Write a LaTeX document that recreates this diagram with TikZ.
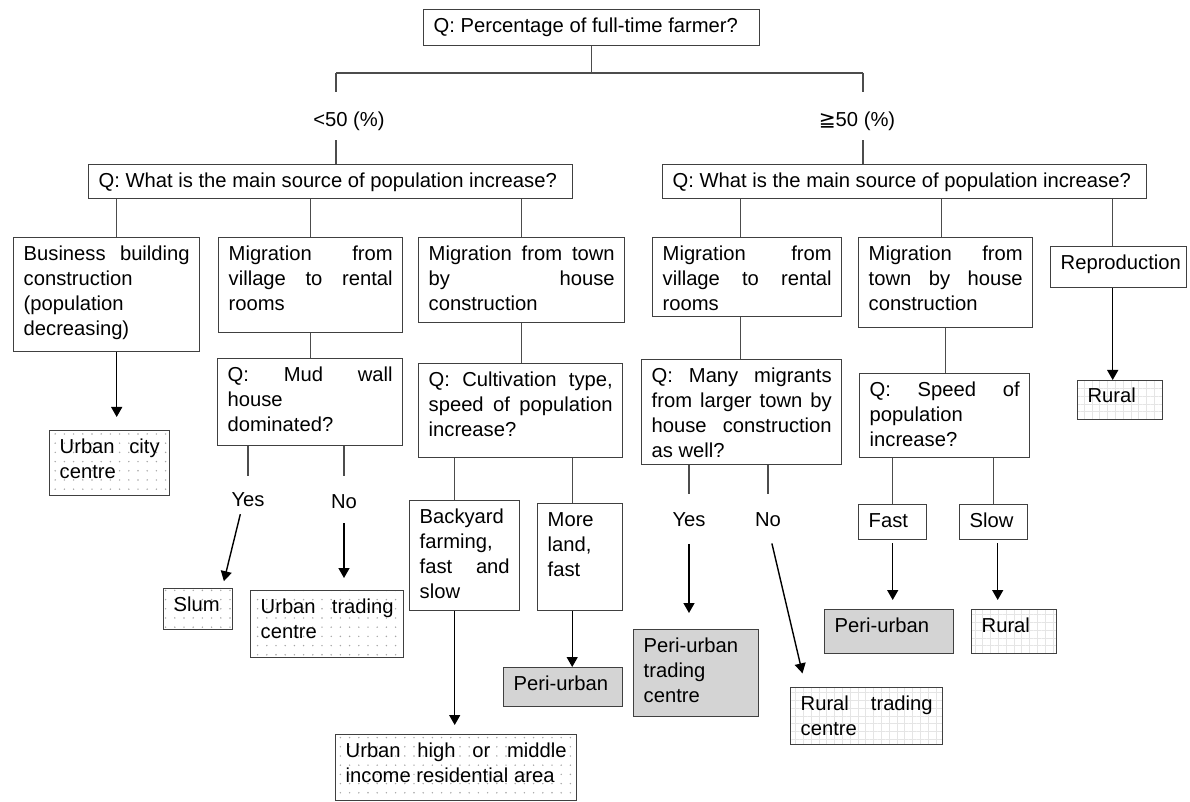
\documentclass[tikz,border=0pt]{standalone}
\usepackage{fontspec}
\setmainfont{Liberation Sans}
\newfontfamily\symfont{DejaVu Sans}
\usetikzlibrary{arrows.meta,patterns.meta}
\tolerance=10000
\hbadness=10000
\hyphenpenalty=10000

\begin{document}
\begin{tikzpicture}[x=0.5pt,y=-0.5pt,
            font=\fontsize{10.1pt}{12.5pt}\selectfont,
            box/.style={rectangle,draw=black!75,line width=0.7pt,anchor=north west,
                        align=justify,inner xsep=5pt,inner ysep=3.75pt,text height=7.5pt},
            boxw/.code={\pgfmathsetlengthmacro\boxwd{#1*0.5pt-10pt}%
                        \tikzset{text width/.expanded=\boxwd}},
            boxh/.code={\pgfmathsetlengthmacro\boxdp{#1*0.5pt-15pt}%
                        \tikzset{text depth/.expanded=\boxdp}},
            urban/.style={box,pattern={Dots[distance=4.6pt,radius=0.4pt]},pattern color=black!35},
            peri/.style={box,fill=black!17},
            rural/.style={box,pattern={Hatch[distance=3.9pt,angle=0,line width=0.5pt]},
                          pattern color=black!10},
            lbl/.style={inner sep=0pt,text height=7.5pt,text depth=0pt},
            conn/.style={draw=black!70,line width=0.7pt},
            arr/.style={-{Triangle[length=5pt,width=5.5pt]},black,line width=0.7pt}]
            \fill[white] (0,0) rectangle (1190,802);
            \useasboundingbox (0,0) rectangle (1190,802);
            % root question
            \node[box,boxw=336,boxh=36] (top) at (423,9) {Q: Percentage of full-time farmer?};
            \coordinate (splitL) at (336,73);
            \coordinate (splitR) at (863,73);
            \node[lbl] (lt50) at (349,119.5) {<50 (\%)};
            \node[lbl] (ge50) at (857,119.5) {{\symfont ≧}50 (\%)};
            \node[box,boxw=484,boxh=34] (qL) at (88,164) {Q: What is the main source of population increase?};
            \node[box,boxw=484,boxh=34] (qR) at (662,164) {Q: What is the main source of population increase?};
            % left branch
            \node[box,boxw=186,boxh=114] (bus) at (13,237) {Business building\linebreak construction\linebreak (population\linebreak decreasing)};
            \node[box,boxw=184,boxh=95] (migV) at (218,237) {Migration from\linebreak village to rental\linebreak rooms};
            \node[box,boxw=185,boxh=87] (mud) at (217,358) {Q: Mud wall\linebreak house\linebreak dominated?};
            \node[box,boxw=206,boxh=85] (migT) at (418,237) {Migration from town\linebreak by house\linebreak construction};
            \node[box,boxw=204,boxh=94] (cult) at (418,363) {Q: Cultivation type,\linebreak speed of population\linebreak increase?};
            \node[box,boxw=110,boxh=110] (back) at (409,500) {Backyard\linebreak farming,\linebreak fast and\linebreak slow};
            \node[box,boxw=85,boxh=107] (land) at (537,503) {More\linebreak land,\linebreak fast};
            \node[urban,boxw=120,boxh=65] (city) at (49,430) {Urban city\linebreak centre};
            \node[lbl] (yes1) at (248,499.5) {Yes};
            \node[lbl] (no1) at (344,501.5) {No};
            \node[urban,boxw=69,boxh=41] (slum) at (163,588) {Slum};
            \node[urban,boxw=153,boxh=67] (utrade) at (250,590) {Urban trading\linebreak centre};
            \node[urban,boxw=241,boxh=66] (uhigh) at (335,734) {Urban high or middle\linebreak income residential area};
            \node[peri,boxw=119,boxh=39] (peri1) at (503,667) {Peri-urban};
            % right branch
            \node[box,boxw=189,boxh=79] (migV2) at (652,237) {Migration from\linebreak village to rental\linebreak rooms};
            \node[box,boxw=200,boxh=105] (many) at (641,359) {Q: Many migrants\linebreak from larger town by\linebreak house construction\linebreak as well?};
            \node[box,boxw=174,boxh=90] (migT2) at (858,237) {Migration from\linebreak town by house\linebreak construction};
            \node[box,boxw=170,boxh=84] (speed) at (859,373) {Q: Speed of\linebreak population\linebreak increase?};
            \node[box,boxw=136,boxh=41] (repro) at (1050,246) {Reproduction};
            \node[rural,boxw=85,boxh=39] (rural1) at (1077,380) {Rural};
            \node[box,boxw=68,boxh=35] (fast) at (858,504) {Fast};
            \node[box,boxw=68,boxh=35] (slow) at (959,504) {Slow};
            \node[lbl] (yes2) at (689,519) {Yes};
            \node[lbl] (no2) at (768,519) {No};
            \node[peri,boxw=125,boxh=87] (ptrade) at (633,629) {Peri-urban\linebreak trading\linebreak centre};
            \node[rural,boxw=152,boxh=57] (rtrade) at (790,687) {Rural trading\linebreak centre};
            \node[peri,boxw=129,boxh=44] (peri2) at (824,609) {Peri-urban};
            \node[rural,boxw=85,boxh=44] (rural2) at (971,609) {Rural};
            % top split
            \draw[conn] (top.south) -- (top.south |- splitL);
            \draw[conn] (splitL) -- (splitR);
            \draw[conn,shorten >=10pt] (splitL) -- (splitL |- lt50.north);
            \draw[conn,shorten <=6.5pt] (splitL |- lt50.south) -- (splitL |- qL.north);
            \draw[conn,shorten >=10pt] (splitR) -- (splitR |- ge50.north);
            \draw[conn,shorten <=6.5pt] (splitR |- ge50.south) -- (splitR |- qR.north);
            % left connectors
            \draw[conn] ([xshift=5pt]bus.north |- qL.south) -- ([xshift=5pt]bus.north);
            \draw[conn] (migV.north |- qL.south) -- (migV.north);
            \draw[conn] (migT.north |- qL.south) -- (migT.north);
            \draw[conn] (migV.south) -- (migV.south |- mud.north);
            \draw[conn] (migT.south) -- (migT.south |- cult.north);
            \draw[arr,shorten >=6.5pt] ([xshift=5pt]bus.south) -- ([xshift=5pt]bus.south |- city.north);
            \draw[conn,shorten >=8pt] (yes1.north |- mud.south) -- (yes1.north);
            \draw[conn,shorten >=9pt] (no1.north |- mud.south) -- (no1.north);
            \draw[arr,shorten <=3.5pt,shorten >=3.5pt] ([xshift=-3pt]yes1.south) -- ([xshift=12pt]slum.north);
            \draw[arr,shorten <=7pt,shorten >=6pt] (no1.south) -- (no1.south |- utrade.north);
            \draw[conn] ([xshift=-5pt]back.north |- cult.south) -- ([xshift=-5pt]back.north);
            \draw[conn] ([xshift=-4pt]land.north |- cult.south) -- ([xshift=-4pt]land.north);
            \draw[arr,shorten >=4.5pt] ([xshift=-5pt]back.south) -- ([xshift=-5pt]back.south |- uhigh.north);
            \draw[arr] ([xshift=-4pt]land.south) -- ([xshift=-4pt]land.south |- peri1.north);
            % right connectors
            \draw[conn] ([xshift=-3.5pt]migV2.north |- qR.south) -- ([xshift=-3.5pt]migV2.north);
            \draw[conn] ([xshift=-2pt]migT2.north |- qR.south) -- ([xshift=-2pt]migT2.north);
            \draw[conn] ([xshift=-3pt]repro.north |- qR.south) -- ([xshift=-3pt]repro.north);
            \draw[conn] ([xshift=-3.5pt]migV2.south) -- ([xshift=-3.5pt]migV2.south |- many.north);
            \draw[conn] (migT2.south) -- (migT2.south |- speed.north);
            \draw[arr] ([xshift=-3pt]repro.south) -- ([xshift=-3pt]repro.south |- rural1.north);
            \draw[conn,shorten >=8.5pt] (yes2.north |- many.south) -- (yes2.north);
            \draw[conn,shorten >=8.5pt] (no2.north |- many.south) -- (no2.north);
            \draw[arr,shorten <=8.5pt,shorten >=8pt] (yes2.south) -- (yes2.south |- ptrade.north);
            \draw[arr,shorten <=8.5pt,shorten >=7pt] (no2.south) -- ([xshift=-30.5pt]rtrade.north);
            \draw[conn] (fast.north |- speed.south) -- (fast.north);
            \draw[conn] (slow.north |- speed.south) -- (slow.north);
            \draw[arr,shorten <=1.5pt,shorten >=4.5pt] (fast.south) -- (fast.south |- peri2.north);
            \draw[arr,shorten <=1.5pt,shorten >=4.5pt] ([xshift=2pt]slow.south) -- ([xshift=2pt]slow.south |- rural2.north);
        \end{tikzpicture}
\end{document}
